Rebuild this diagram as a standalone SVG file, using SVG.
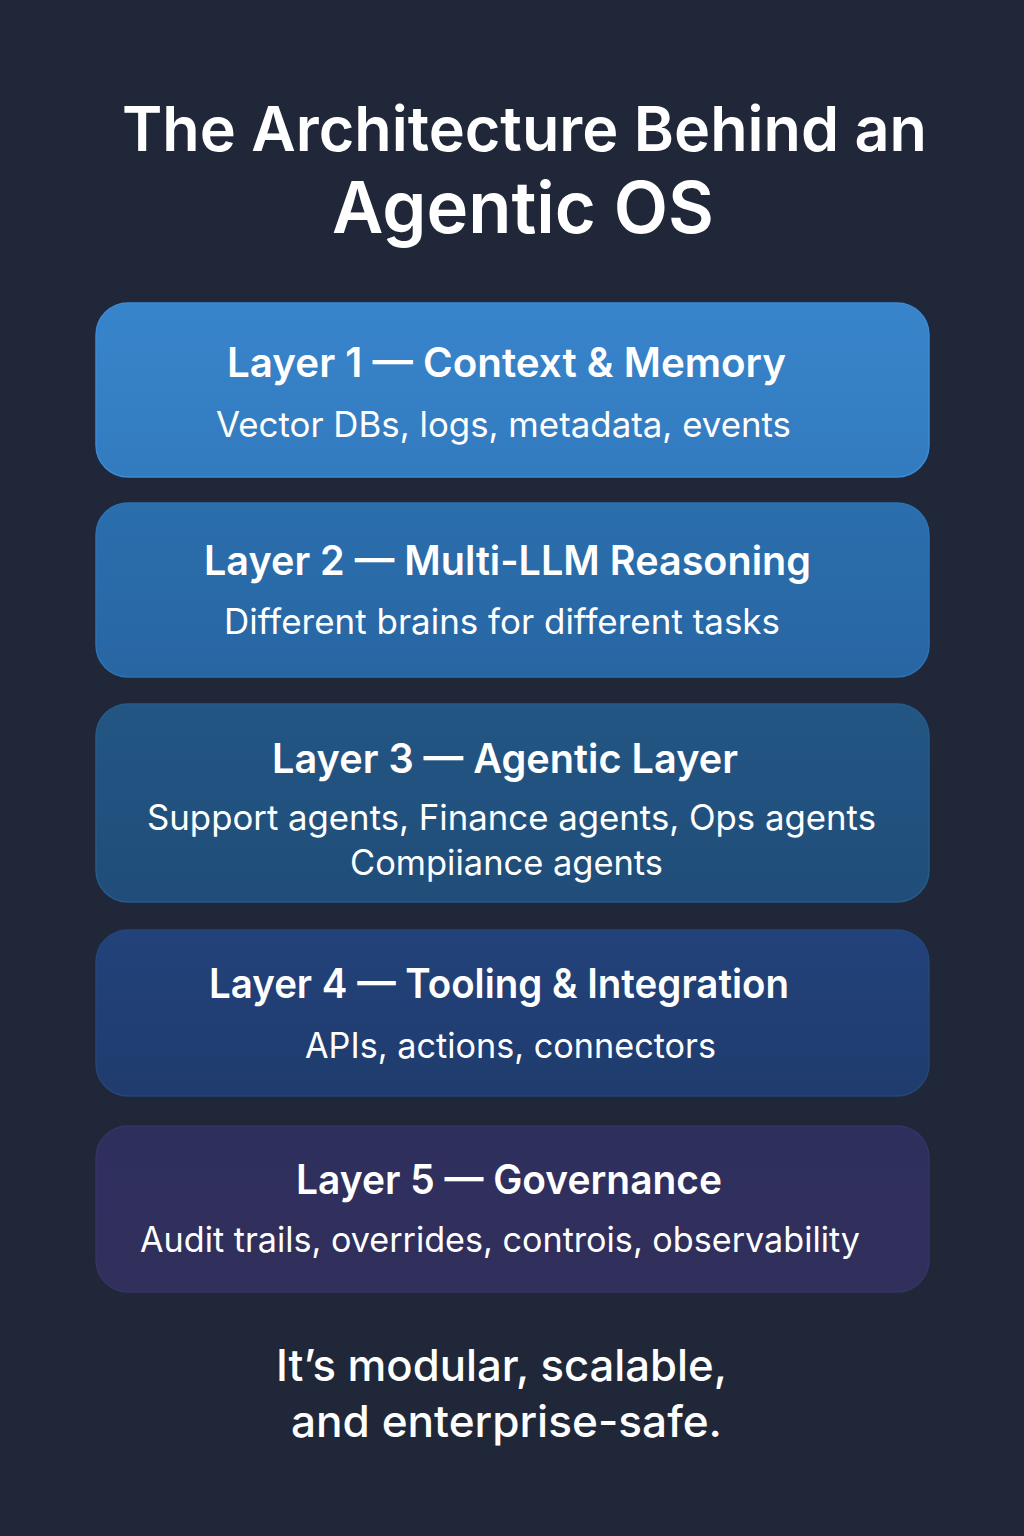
<svg xmlns="http://www.w3.org/2000/svg" width="1024" height="1536" viewBox="0 0 1024 1536">
<defs>
<style>
.t{font-family:Inter,"Noto Sans","Liberation Sans",sans-serif;fill:#ffffff;text-anchor:middle}
.h{font-size:61.5px;font-weight:600}
.h2{font-size:71.5px;font-weight:600}
.lt{font-size:40.5px;font-weight:600}
.ls{font-size:35px;font-weight:400}
.f{font-size:44px;font-weight:500}
.box{stroke-width:1.5}
</style>
<linearGradient id="g1" x1="0" y1="0" x2="0" y2="1"><stop offset="0" stop-color="#3884cb"/><stop offset="1" stop-color="#337bbf"/></linearGradient>
<linearGradient id="g2" x1="0" y1="0" x2="0" y2="1"><stop offset="0" stop-color="#2b6ead"/><stop offset="1" stop-color="#2866a3"/></linearGradient>
<linearGradient id="g3" x1="0" y1="0" x2="0" y2="1"><stop offset="0" stop-color="#235683"/><stop offset="1" stop-color="#204d7a"/></linearGradient>
<linearGradient id="g4" x1="0" y1="0" x2="0" y2="1"><stop offset="0" stop-color="#22427a"/><stop offset="1" stop-color="#203c6e"/></linearGradient>
<linearGradient id="g5" x1="0" y1="0" x2="0" y2="1"><stop offset="0" stop-color="#2f2f5e"/><stop offset="1" stop-color="#312f5c"/></linearGradient>
</defs>
<rect width="1024" height="1536" fill="#1f2738"/>
<g id="title">
<text class="t h" x="524.5" y="151" textLength="805" lengthAdjust="spacingAndGlyphs">The Architecture Behind an</text>
<text class="t h2" x="523" y="233" textLength="382" lengthAdjust="spacingAndGlyphs">Agentic OS</text>
</g>
<g id="layer1">
<rect class="box" x="96" y="303" width="833" height="174" rx="32" fill="url(#g1)" stroke="#3c8ad6"/>
<text class="t lt" x="506.5" y="377" textLength="559" lengthAdjust="spacingAndGlyphs">Layer 1 — Context &amp; Memory</text>
<text class="t ls" x="503.5" y="437" textLength="575" lengthAdjust="spacingAndGlyphs">Vector DBs, logs, metadata, events</text>
</g>
<g id="layer2">
<rect class="box" x="96" y="503" width="833" height="174" rx="32" fill="url(#g2)" stroke="#2d72b3"/>
<text class="t lt" x="507.5" y="575" textLength="607" lengthAdjust="spacingAndGlyphs">Layer 2 — Multi-LLM Reasoning</text>
<text class="t ls" x="502" y="634" textLength="556" lengthAdjust="spacingAndGlyphs">Different brains for different tasks</text>
</g>
<g id="layer3">
<rect class="box" x="96" y="704" width="833" height="198" rx="32" fill="url(#g3)" stroke="#265a8a"/>
<text class="t lt" x="505" y="773" textLength="466" lengthAdjust="spacingAndGlyphs">Layer 3 — Agentic Layer</text>
<text class="t ls" x="511.5" y="830" textLength="729" lengthAdjust="spacingAndGlyphs">Support agents, Finance agents, Ops agents</text>
<text class="t ls" x="506.5" y="875" textLength="313" lengthAdjust="spacingAndGlyphs">Compiiance agents</text>
</g>
<g id="layer4">
<rect class="box" x="96" y="930" width="833" height="166" rx="32" fill="url(#g4)" stroke="#244679"/>
<text class="t lt" x="499" y="998" textLength="580" lengthAdjust="spacingAndGlyphs">Layer 4 — Tooling &amp; Integration</text>
<text class="t ls" x="510.5" y="1058" textLength="411" lengthAdjust="spacingAndGlyphs">APIs, actions, connectors</text>
</g>
<g id="layer5">
<rect class="box" x="96" y="1126" width="833" height="166" rx="32" fill="url(#g5)" stroke="#363466"/>
<text class="t lt" x="509" y="1194" textLength="426" lengthAdjust="spacingAndGlyphs">Layer 5 — Governance</text>
<text class="t ls" x="500" y="1252" textLength="720" lengthAdjust="spacingAndGlyphs">Audit trails, overrides, controis, observability</text>
</g>
<g id="connectors"></g>
<g id="footer">
<text class="t f" x="501.5" y="1381" textLength="451" lengthAdjust="spacingAndGlyphs">It’s modular, scalable,</text>
<text class="t f" x="506.5" y="1437" textLength="431" lengthAdjust="spacingAndGlyphs">and enterprise-safe.</text>
</g>
</svg>
